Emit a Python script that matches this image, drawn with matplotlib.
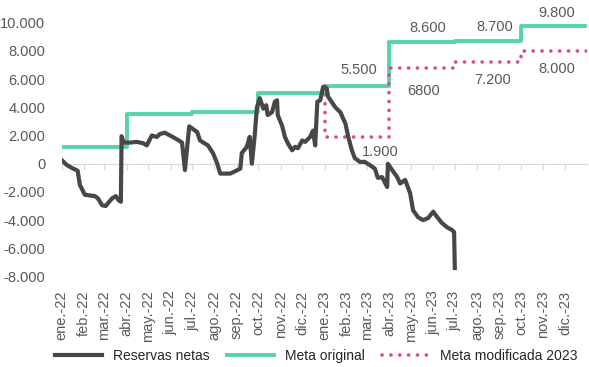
import pandas as pd
import matplotlib
matplotlib.use("Agg")
import matplotlib.pyplot as plt
from matplotlib.ticker import FuncFormatter

# datos (millones de USD)
fechas_reservas = ["2022-01-02", "2022-01-08", "2022-01-15", "2022-01-23", "2022-01-26", "2022-01-30",
                   "2022-02-02", "2022-02-09", "2022-02-16", "2022-02-20", "2022-02-26",
                   "2022-03-03", "2022-03-06", "2022-03-12", "2022-03-17", "2022-03-21", "2022-03-24", "2022-03-25", "2022-03-28",
                   "2022-04-06", "2022-04-15", "2022-04-24", "2022-04-29",
                   "2022-05-06", "2022-05-13", "2022-05-17", "2022-05-24",
                   "2022-06-04", "2022-06-11", "2022-06-17", "2022-06-21", "2022-06-27",
                   "2022-07-08", "2022-07-12", "2022-07-23", "2022-07-30",
                   "2022-08-05", "2022-08-09", "2022-08-23", "2022-08-27",
                   "2022-09-06", "2022-09-08", "2022-09-15", "2022-09-19", "2022-09-22", "2022-09-26", "2022-09-29",
                   "2022-10-03", "2022-10-08", "2022-10-12", "2022-10-14", "2022-10-20", "2022-10-24", "2022-10-27", "2022-10-28",
                   "2022-11-03", "2022-11-07", "2022-11-11", "2022-11-17", "2022-11-21", "2022-11-25",
                   "2022-12-01", "2022-12-05", "2022-12-12", "2022-12-16", "2022-12-19", "2022-12-22", "2022-12-26", "2022-12-30",
                   "2023-01-04", "2023-01-06", "2023-01-16", "2023-01-23", "2023-01-30",
                   "2023-02-03", "2023-02-08", "2023-02-12", "2023-02-19", "2023-02-26",
                   "2023-03-05", "2023-03-12", "2023-03-16", "2023-03-22", "2023-03-29", "2023-03-30",
                   "2023-04-05", "2023-04-12", "2023-04-16", "2023-04-23", "2023-04-30",
                   "2023-05-04", "2023-05-11", "2023-05-18", "2023-05-25",
                   "2023-06-01", "2023-06-06", "2023-06-13", "2023-06-20", "2023-06-27", "2023-06-30", "2023-07-01"]
reservas_netas = [200, -100, -300, -500, -1500, -1900,
                  -2200, -2250, -2300, -2450, -2950,
                  -3000, -2800, -2450, -2300, -2600, -2700, 1950, 1500,
                  1500, 1550, 1450, 1300,
                  2000, 1900, 2100, 2200,
                  1900, 1700, 1500, -450, 2650,
                  2250, 1650, 1300, 750,
                  0, -700, -700, -600,
                  -350, 750, 1200, 1900, 0, 2000, 4000,
                  4650, 3900, 4150, 3450, 3650, 4400, 4500, 3450,
                  2700, 1900, 1450, 950, 1200, 1100,
                  1650, 1550, 1900, 2350, 1300, 4400, 4500, 5450,
                  5350, 4750, 4000, 3650, 2850,
                  1900, 950, 400, 130, 130,
                  -100, -350, -1000, -950, -1650, 0,
                  -450, -950, -1400, -1150, -2100,
                  -3300, -3800, -4000, -3850,
                  -3400, -3750, -4200, -4500, -4700, -4850, -7400]

fechas_meta = ["2022-01-01", "2022-04-01", "2022-07-01", "2022-10-01",
               "2023-01-01", "2023-04-01", "2023-07-01", "2023-10-01"]
meta_original = [1200, 3500, 3650, 5000, 5500, 8600, 8700, 9800]

fechas_mod = ["2023-01-01", "2023-04-01", "2023-07-01", "2023-10-01"]
meta_modificada = [1900, 6800, 7200, 8000]

fin_serie = "2023-12-31"

meses = ["ene.", "feb.", "mar.", "abr.", "may.", "jun.",
         "jul.", "ago.", "sep.", "oct.", "nov.", "dic."]
anios = ["22", "23"]

# etiquetas de valores: texto, fecha, y
etiquetas = [("5.500", "2023-02-17", 6630), ("8.600", "2023-05-25", 9610),
             ("8.700", "2023-08-26", 9680), ("9.800", "2023-11-20", 10670),
             ("1.900", "2023-03-19", 815), ("6800", "2023-05-18", 5140),
             ("7.200", "2023-08-23", 5920), ("8.000", "2023-11-20", 6700)]

GRIS = "#474747"
VERDE = "#58D2AE"
ROSA = "#D94A92"
TXT = "#595959"

plt.rcParams["font.family"] = ["Liberation Sans", "DejaVu Sans"]

fig = plt.figure(figsize=(5.89, 3.67), dpi=100)
ax = fig.add_axes([0.105, 0.2466, 0.892, 0.6914])

x_res = pd.to_datetime(fechas_reservas)
x_meta = pd.to_datetime(fechas_meta + [fin_serie])
y_meta = meta_original + [meta_original[-1]]
x_mod = pd.to_datetime([fechas_mod[0]] + fechas_mod + [fin_serie])
y_mod = [meta_original[fechas_meta.index(fechas_mod[0])]] + meta_modificada + [meta_modificada[-1]]

ax.plot(x_meta, y_meta, drawstyle="steps-post", color=VERDE, lw=2.8,
        label="Meta original", zorder=2)
ax.plot(x_mod, y_mod, drawstyle="steps-post", color=ROSA, lw=2.6,
        linestyle=(0, (0.05, 2.4)), dash_capstyle="round",
        label="Meta modificada 2023", zorder=2)
ax.plot(x_res, reservas_netas, color=GRIS, lw=3.0, label="Reservas netas",
        zorder=3, solid_joinstyle="round")

for txt, f, y in etiquetas:
    ax.text(pd.Timestamp(f), y, txt, ha="center", va="center",
            fontsize=10.5, color=TXT, clip_on=False)

ax.set_ylim(-8000, 10000)
ax.set_yticks(range(-8000, 10001, 2000))
ax.yaxis.set_major_formatter(FuncFormatter(lambda v, p: f"{int(v):,}".replace(",", ".")))
ax.set_xlim(pd.Timestamp("2022-01-01"), pd.Timestamp("2024-01-01"))

ticks = pd.date_range("2022-01-01", "2023-12-01", freq="MS")
etiq_x = [m + "-" + a for a in anios for m in meses]

# eje horizontal en cero con marcas pequeñas
for s in ["top", "right", "left"]:
    ax.spines[s].set_visible(False)
ax.spines["bottom"].set_position(("data", 0))
ax.spines["bottom"].set_color("#d9d9d9")
ax.set_xticks(ticks)
ax.tick_params(axis="x", length=4, color="#d9d9d9", labelbottom=False)
ax.tick_params(axis="y", length=0, pad=12, labelsize=10.5, labelcolor=TXT)

sec = ax.secondary_xaxis(0)
sec.set_xticks(ticks)
sec.set_xticklabels(etiq_x, rotation=90, fontsize=10.5, color=TXT)
sec.tick_params(length=0, pad=10)
sec.spines["bottom"].set_visible(False)

h, l = ax.get_legend_handles_labels()
orden = [2, 0, 1]
fig.legend([h[i] for i in orden], [l[i] for i in orden], loc="center",
           bbox_to_anchor=(0.537, 0.03), ncol=3, frameon=False,
           fontsize=10, handlelength=3.4, columnspacing=1.2,
           labelcolor="#262626")

fig.savefig("out.png", dpi=100)
